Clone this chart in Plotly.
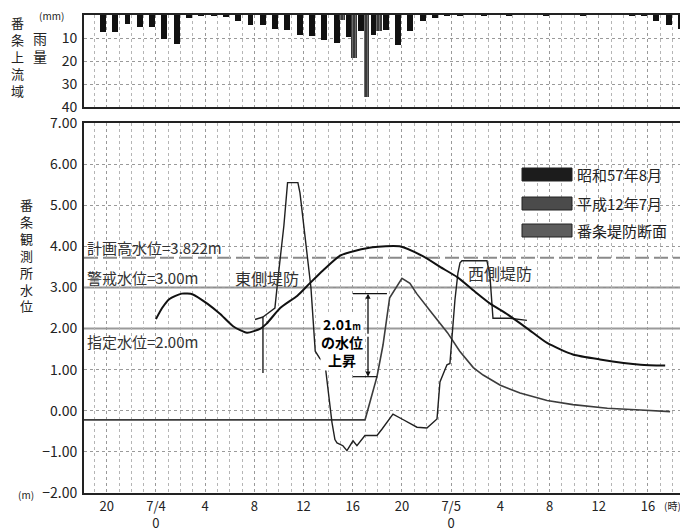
import plotly.graph_objects as go

# ---------------- data ----------------
# hourly rainfall (mm), hour index relative to 7/4 0:00
rain_hours = list(range(-4, 44))
rain_s57 = [7.4, 7.3, 3.9, 5.4, 5.1, 10.3, 12.6, 1.4, 0.3, 0.3, 1.0, 2.5,
            4.4, 4.3, 6.1, 6.5, 8.7, 9.3, 11.0, 12.2, 9.6, 7.0, 8.7, 6.5,
            13.0, 7.0, 2.6, 1.2, 0.3, 0.2, 0.0, 0.2, 0.0, 0.2, 0.0, 0.0,
            0.2, 0.0, 0.0, 0.2, 0.0, 0.0, 0.0, 0.2, 0.3, 2.5, 4.3, 6.1]
rain_h12_hours = [15, 16, 17, 18]
rain_h12 = [2.0, 18.7, 35.7, 7.0]

# water level (m)
s57_hours = [0.0, 0.5, 1.1, 2.1, 3.0, 4.2, 5.2, 6.3, 7.4, 8.5, 9.0, 10.1, 11.5,
             12.5, 13.6, 15.0, 16.3, 17.6, 19.8, 21.7, 23.1, 24.5, 25.8, 27.2,
             28.5, 30.2, 31.8, 33.9, 36.1, 39.4, 41.4]
s57_level = [2.23, 2.5, 2.72, 2.85, 2.83, 2.6, 2.36, 2.05, 1.9, 2.0, 2.12, 2.5,
             2.8, 3.1, 3.42, 3.78, 3.9, 3.98, 4.0, 3.76, 3.5, 3.25, 2.93, 2.6,
             2.36, 2.0, 1.65, 1.37, 1.25, 1.12, 1.1]

h12_hours = [-5.85, 17.0, 17.97, 18.46, 19.0, 20.0, 20.65, 21.2, 22.3, 23.7,
             24.7, 25.8, 26.6, 28.0, 29.6, 31.8, 33.9, 36.7, 39.4, 41.8]
h12_level = [-0.22, -0.22, 0.83, 1.6, 2.75, 3.22, 3.1, 2.85, 2.43, 1.9,
             1.45, 1.05, 0.87, 0.62, 0.43, 0.25, 0.15, 0.06, 0.02, -0.02]

sec_hours = [8.05, 8.7, 8.7, None, 8.7, 9.67, 9.95, 10.4, 10.7, 11.54, 11.71,
             12.6, 12.95, 13.33, 13.74, 13.98, 14.31, 14.55, 14.72, 15.2, 15.53,
             16.02, 16.34, 16.99, 17.97, 18.37, 19.27, 20.0, 21.22, 22.03,
             22.85, 23.09, 23.66, 23.9, 24.07, 24.31, 24.55, 24.72, 24.88,
             26.91, 27.15, 27.4, 28.78, 30.16]
sec_level = [2.22, 2.28, 0.92, None, 2.28, 2.5, 3.3, 4.5, 5.55, 5.55, 5.3,
             3.0, 1.45, 1.27, 1.15, 0.53, -0.28, -0.7, -0.78, -0.85, -0.97,
             -0.73, -0.85, -0.6, -0.6, -0.45, -0.08, -0.2, -0.4, -0.42,
             -0.2, 0.7, 1.12, 1.15, 1.77, 2.7, 3.35, 3.6, 3.65,
             3.65, 3.3, 2.25, 2.25, 2.2]

plan_level = 3.72        # 計画高水位 (drawn position)
warn_level = 3.00        # 警戒水位
designated_level = 2.00  # 指定水位

tick_hours = [-4, 0, 4, 8, 12, 16, 20, 24, 28, 32, 36, 40]
tick_text = ["20", "7/4<br>0", "4", "8", "12", "16", "20", "7/5<br>0",
             "4", "8", "12", "16"]

# ---------------- figure ----------------
FONT = "Noto Sans CJK JP, Noto Sans, sans-serif"
fig = go.Figure()

fig.add_trace(go.Bar(x=rain_hours, y=rain_s57, width=0.48, offset=-0.55,
                     marker=dict(color="#111111", line=dict(width=0)),
                     xaxis="x", yaxis="y", showlegend=False))
fig.add_trace(go.Bar(x=rain_h12_hours, y=rain_h12, width=0.48, offset=-0.12,
                     marker=dict(color="#3a3a3a", line=dict(width=0),
                                 pattern=dict(shape="|", fgcolor="#9a9a9a",
                                              size=3, solidity=0.35)),
                     xaxis="x", yaxis="y", showlegend=False))

fig.add_trace(go.Scatter(x=h12_hours, y=h12_level, mode="lines",
                         line=dict(color="#3c3c3c", width=1.6),
                         xaxis="x2", yaxis="y2", showlegend=False))
fig.add_trace(go.Scatter(x=sec_hours, y=sec_level, mode="lines",
                         line=dict(color="#202020", width=1.4),
                         connectgaps=False,
                         xaxis="x2", yaxis="y2", showlegend=False))
fig.add_trace(go.Scatter(x=s57_hours, y=s57_level, mode="lines",
                         line=dict(color="#111111", width=2, shape="spline",
                                   smoothing=0.6),
                         xaxis="x2", yaxis="y2", showlegend=False))

shapes = []
for lvl, dash, col in [(plan_level, "14px,5px", "#8a8a8a"),
                       (warn_level, "solid", "#8f8f8f"),
                       (designated_level, "solid", "#9a9a9a")]:
    shapes.append(dict(type="line", xref="x2 domain", yref="y2",
                       x0=0, x1=1, y0=lvl, y1=lvl, layer="below",
                       line=dict(color=col, width=2, dash=dash)))

# 2.01m bracket
shapes += [
    dict(type="line", xref="x2", yref="y2", x0=16.02, x1=18.78, y0=2.85, y1=2.85,
         line=dict(color="#111", width=1.2)),
    dict(type="line", xref="x2", yref="y2", x0=16.02, x1=17.97, y0=0.83, y1=0.83,
         line=dict(color="#111", width=1.2)),
]

# page pixel -> paper (page has an 8px body margin; plot area spans x 84..683, y 15..493)
def px2paper(px, py):
    return (px - 84) / 599, (493 - py) / 478

legend_items = [("昭和57年8月", "#1c1c1c", 168), ("平成12年7月", "#4b4b4b", 197),
                ("番条堤防断面", "#5d5d5d", 224)]
annotations = []
for name, col, py in legend_items:
    x0, y1 = px2paper(522, py)
    x1, y0 = px2paper(572, py + 13)
    shapes.append(dict(type="rect", xref="paper", yref="paper", x0=x0, x1=x1,
                       y0=y0, y1=y1, fillcolor=col, line=dict(color="#222", width=1)))
    tx, ty = px2paper(575, py + 6.5)
    annotations.append(dict(text=name, xref="paper", yref="paper", x=tx, y=ty,
                            xanchor="left", yanchor="middle", showarrow=False,
                            font=dict(size=15, color="#222")))

def ann(text, x, y, xanchor="left", size=15, **kw):
    d = dict(text=text, xref="x2", yref="y2", x=x, y=y, xanchor=xanchor,
             yanchor="middle", showarrow=False,
             font=dict(size=size, color="#333", family=FONT))
    d.update(kw)
    return d

annotations += [
    ann("計画高水位=3.822m", -5.8, 3.97),
    ann("警戒水位=3.00m", -5.8, 3.24),
    ann("東側堤防", 9.0, 3.24, xanchor="center", size=16),
    ann("指定水位=2.00m", -5.8, 1.69),
    ann("西側堤防", 28.0, 3.35, xanchor="center", size=16),
    dict(text="<b>2.01<span style='font-size:9px'>m</span><br>の水位<br>上昇</b>",
         xref="x2", yref="y2", x=15.1, y=1.67, xanchor="center", yanchor="middle",
         showarrow=False, bgcolor="white", borderpad=0,
         font=dict(size=14, color="#000", family=FONT)),
    dict(text="", xref="x2", yref="y2", axref="x2", ayref="y2",
         x=17.24, y=2.85, ax=17.24, ay=1.84, showarrow=True,
         arrowhead=2, arrowsize=0.8, arrowwidth=1.3, arrowcolor="#111"),
    dict(text="", xref="x2", yref="y2", axref="x2", ayref="y2",
         x=17.24, y=0.83, ax=17.24, ay=1.84, showarrow=True,
         arrowhead=2, arrowsize=0.8, arrowwidth=1.3, arrowcolor="#111"),
]

# axis titles / units
def pann(text, px, py, size, **kw):
    x, y = px2paper(px, py)
    d = dict(text=text, xref="paper", yref="paper", x=x, y=y, xanchor="center",
             yanchor="middle", showarrow=False,
             font=dict(size=size, color="#222", family=FONT))
    d.update(kw)
    return d

annotations += [
    pann("番<br>条<br>上<br>流<br>域", 17, 57, 13),
    pann("雨<br>量", 40, 47, 14),
    pann("番<br>条<br>観<br>測<br>所<br>水<br>位", 26, 255, 13),
    pann("(mm)", 51, 15, 10),
    pann("(m)", 26, 494, 10),
    pann("(時)", 672, 505, 10),
]

grid = dict(showgrid=True, gridcolor="#9a9a9a", griddash="dot", gridwidth=1)
axis_common = dict(showline=True, mirror=True, linecolor="#222", linewidth=2,
                   zeroline=False, ticks="", automargin=False)
tickfont = dict(size=14, color="#222", family=FONT)
xrange = [-5.85, 42.85]
minor = dict(tick0=0, dtick=1, showgrid=True, gridcolor="#b5b5b5",
             griddash="dot", gridwidth=1)

fig.update_layout(
    width=680, height=521,
    margin=dict(l=76, r=5, t=7, b=36, autoexpand=False),
    paper_bgcolor="white", plot_bgcolor="white",
    barmode="overlay", bargap=0,
    font=dict(family=FONT, color="#222"),
    shapes=shapes, annotations=annotations,
    xaxis=dict(domain=[0, 1], anchor="y", range=xrange, showticklabels=False,
               tickvals=tick_hours, **grid, minor=minor, **axis_common),
    yaxis=dict(domain=[0.8075, 1], anchor="x", range=[40, 0],
               tickvals=[0, 10, 20, 30, 40], ticktext=["0", "10", "20", "30", "40"],
               ticklabelstandoff=2, tickfont=tickfont, **grid, **axis_common),
    xaxis2=dict(domain=[0, 1], anchor="y2", range=xrange, tickvals=tick_hours,
                ticktext=tick_text, ticklabelstandoff=0,
                tickfont=dict(size=13, color="#222", family=FONT),
                **grid, minor=minor, **axis_common),
    yaxis2=dict(domain=[0, 0.774], anchor="x2", range=[-2, 7], dtick=1,
                tickformat=".2f", ticklabelstandoff=2, tickfont=tickfont,
                **grid, **axis_common),
)

fig.write_html("out.html")
